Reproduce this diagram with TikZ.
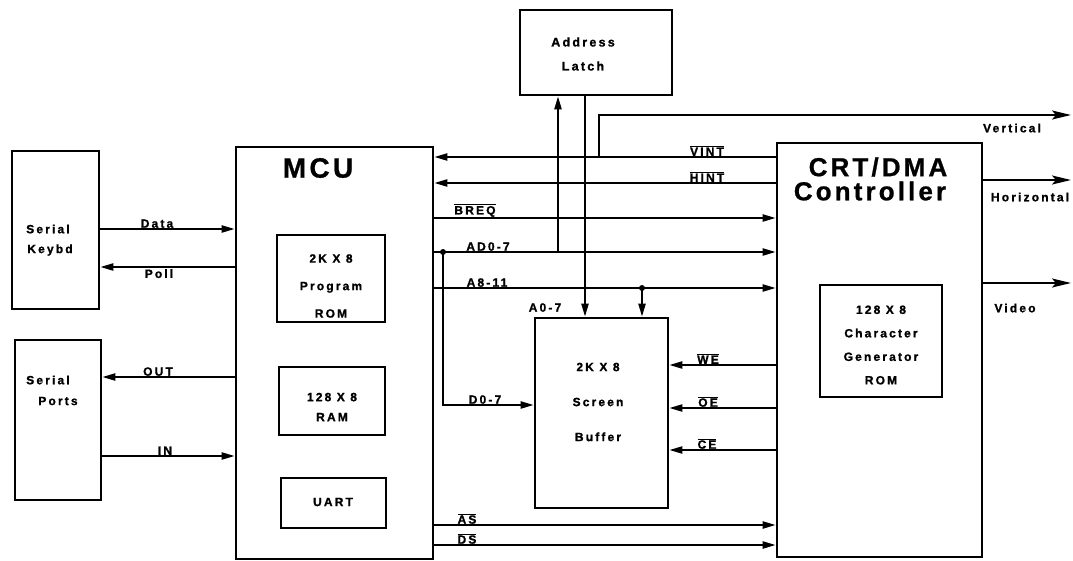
\documentclass[tikz,border=0pt]{standalone}
\usepackage{fontspec}
\setmainfont{Liberation Sans}
\newfontfamily\lblfont{Liberation Sans}[LetterSpace=18, BoldFeatures={FakeBold=1.2}]
\newfontfamily\ttlfont{Liberation Sans}[LetterSpace=12, BoldFeatures={FakeBold=0.8}]
\usetikzlibrary{arrows.meta}
\newcommand{\ovl}[1]{$\overline{\hbox{#1}}$}
\tikzset{
  box/.style={draw, line width=2.6pt, inner sep=0pt},
  wire/.style={line width=2.1pt},
  arr/.style={wire, -{Triangle[length=13pt,width=7pt]}},
  arrR/.style={wire, -{Stealth[length=19pt,width=9pt,inset=4pt]}},
  lbl/.style={font=\lblfont\bfseries\fontsize{12}{14}\selectfont, inner sep=1pt},
  btxt/.style={align=center, inner sep=0pt},
  ttl/.style={font=\ttlfont\bfseries\fontsize{26}{28}\selectfont, inner sep=0pt},
  dot/.style={circle, fill, inner sep=0pt, minimum size=6pt}
}
\begin{document}
\begin{tikzpicture}[x=1pt,y=-1pt]
\useasboundingbox (0,0) rectangle (1073,560);

% boxes
\node[box, minimum width=87pt, minimum height=158pt] (keybd) at (55.5,230) {};
\node[box, minimum width=86pt, minimum height=160pt] (ports) at (58,420) {};
\node[box, minimum width=197pt, minimum height=412pt] (mcu) at (334.5,353) {};
\node[box, minimum width=108pt, minimum height=87pt] (prom) at (331,278.5) {};
\node[box, minimum width=106pt, minimum height=68pt] (ram) at (332,401) {};
\node[box, minimum width=105pt, minimum height=50pt] (uart) at (333.5,503) {};
\node[box, minimum width=152pt, minimum height=85pt] (latch) at (596,52.5) {};
\node[box, minimum width=133pt, minimum height=190pt] (buf) at (601.5,413) {};
\node[box, minimum width=205pt, minimum height=414pt] (crt) at (879.5,350) {};
\node[box, minimum width=122pt, minimum height=112pt] (crom) at (881,341) {};

% box texts
\node[lbl] (tKb1) at (48,229) {Serial};
\node[lbl] (tKb2) at (50,250) {Keybd};
\node[lbl] (tPt1) at (48,380) {Serial};
\node[lbl] (tPt2) at (58,401) {Ports};
\node[ttl, font=\ttlfont\bfseries\fontsize{28}{30}\selectfont] (tMcu) at (318,168) {MCU};
\node[btxt, font=\lblfont\bfseries\fontsize{12}{27.5}\selectfont] (tProm) at (331,286) {2K X 8\\Program\\ROM};
\node[btxt, font=\lblfont\bfseries\fontsize{12}{20}\selectfont] (tRam) at (332,407) {128 X 8\\RAM};
\node[btxt, font=\lblfont\bfseries\fontsize{12}{14}\selectfont] (tUart) at (333,502) {UART};
\node[btxt, font=\lblfont\bfseries\fontsize{12.5}{24}\selectfont] (tLatch) at (583,54) {Address\\Latch};
\node[btxt, font=\lblfont\bfseries\fontsize{12}{35}\selectfont] (tBuf) at (598,402) {2K X 8\\Screen\\Buffer};
\node[btxt, font=\lblfont\bfseries\fontsize{12}{23.5}\selectfont] (tCrom) at (881,345) {128 X 8\\Character\\Generator\\ROM};
\node[ttl] (tCrt1) at (878,167) {CRT/DMA};
\node[ttl] (tCrt2) at (870,191) {Controller};

% level coordinates
\coordinate (yData) at (0,229);
\coordinate (yPoll) at (0,267);
\coordinate (yOut) at (0,377);
\coordinate (yIn) at (0,456);
\coordinate (yV) at (0,157);
\coordinate (yH) at (0,183);
\coordinate (yB) at (0,218);
\coordinate (yAD) at (0,252);
\coordinate (yA8) at (0,288);
\coordinate (yD) at (0,405);
\coordinate (yWE) at (0,365);
\coordinate (yOE) at (0,408);
\coordinate (yCE) at (0,450);
\coordinate (yAS) at (0,525);
\coordinate (yDS) at (0,545);
\coordinate (yHor) at (0,180);
\coordinate (yVid) at (0,283);
\coordinate (vTap) at (599,157);
\coordinate (vEnd) at (1071,115);
\coordinate (hEnd) at (1071,0);
\coordinate (jLatch) at (558,252);
\coordinate (xOut) at (585,0);
\coordinate (jA8) at (642,288);
\coordinate (jD) at (443,252);

% left side
\draw[arr] (keybd.east |- yData) -- (mcu.west |- yData);
\draw[arr] (mcu.west |- yPoll) -- (keybd.east |- yPoll);
\draw[arr] (mcu.west |- yOut) -- (ports.east |- yOut);
\draw[arr] (ports.east |- yIn) -- (mcu.west |- yIn);
\node[lbl, anchor=south] (lData) at (157,229) {Data};
\node[lbl, anchor=north] (lPoll) at (159,268) {Poll};
\node[lbl, anchor=south] (lOut) at (158,377) {OUT};
\node[lbl, anchor=south] (lIn) at (165,456) {IN};

% MCU <-> CRT
\draw[arr] (crt.west |- yV) -- (mcu.east |- yV);
\draw[arr] (crt.west |- yH) -- (mcu.east |- yH);
\draw[arrR] (vTap) |- (vEnd);
\draw[arr] (mcu.east |- yB) -- (crt.west |- yB);
\draw[arr] (mcu.east |- yAD) -- (crt.west |- yAD);
\draw[arr] (mcu.east |- yA8) -- (crt.west |- yA8);
\draw[arr] (mcu.east |- yAS) -- (crt.west |- yAS);
\draw[arr] (mcu.east |- yDS) -- (crt.west |- yDS);
\node[lbl, anchor=south] (lV) at (707,157) {\ovl{VINT}};
\node[lbl, anchor=south] (lH) at (707,183) {\ovl{HINT}};
\node[lbl, anchor=south] (lB) at (475,218) {\ovl{BREQ}};
\node[lbl, anchor=south] (lAD) at (488,252) {AD0-7};
\node[lbl, anchor=south] (lA8) at (487,288) {A8-11};
\node[lbl, anchor=south] (lAS) at (467,525) {\ovl{AS}};
\node[lbl, anchor=south] (lDS) at (467,545) {\ovl{DS}};

% latch and buffer
\draw[arr] (jLatch) -- (latch.south -| jLatch);
\draw[arr] (latch.south -| xOut) -- (buf.north -| xOut);
\draw[arr] (jA8) -- (buf.north -| jA8);
\draw[arr] (jD) |- (buf.west |- yD);
\node[dot] (dA8) at (jA8) {};
\node[dot] (dD) at (jD) {};
\node[lbl, anchor=south] (lA0) at (545,313) {A0-7};
\node[lbl, anchor=south] (lD0) at (485,405) {D0-7};

\draw[arr] (crt.west |- yWE) -- (buf.east |- yWE);
\draw[arr] (crt.west |- yOE) -- (buf.east |- yOE);
\draw[arr] (crt.west |- yCE) -- (buf.east |- yCE);
\node[lbl, anchor=south] (lWE) at (708,365) {\ovl{WE}};
\node[lbl, anchor=south] (lOE) at (708,408) {\ovl{OE}};
\node[lbl, anchor=south] (lCE) at (707,450) {\ovl{CE}};

% right outputs
\draw[arrR] (crt.east |- yHor) -- (hEnd |- yHor);
\draw[arrR] (crt.east |- yVid) -- (hEnd |- yVid);
\node[lbl] (lVert) at (1012,128) {Vertical};
\node[lbl] (lHor) at (1030,197) {Horizontal};
\node[lbl] (lVid) at (1015,308) {Video};
\end{tikzpicture}
\end{document}
